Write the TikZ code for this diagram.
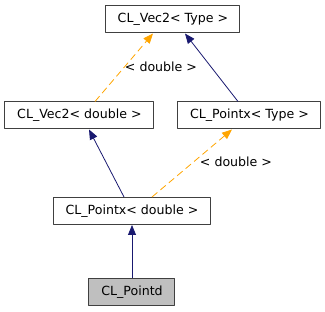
\documentclass[tikz,border=0pt]{standalone}
\usepackage{fontspec}
\setmainfont{DejaVu Sans}
\usetikzlibrary{arrows.meta}
\definecolor{inheritblue}{HTML}{191970}
\definecolor{templorange}{HTML}{FFA500}
\definecolor{boxgray}{HTML}{404040}

\tikzset{
  classbox/.style={draw=boxgray, line width=1pt, fill=white, minimum height=27pt,
    inner sep=0pt, font=\fontsize{12.6}{15}\selectfont},
  inherits/.style={draw=inheritblue, line width=0.8pt,
    -{Triangle[length=10pt,width=8pt]}},
  instance/.style={draw=templorange, line width=0.8pt, dash pattern=on 7pt off 4pt,
    -{Triangle[length=10pt,width=8pt]}},
  edgelabel/.style={font=\fontsize{12.6}{15}\selectfont, inner sep=1pt}
}

\begin{document}
\begin{tikzpicture}[x=1pt, y=-1pt, line join=round]
  \useasboundingbox (0,0) rectangle (325,312);

  % class boxes
  \node[classbox, minimum width=134pt] (vect) at (173,19.5) {CL\_Vec2< Type >};
  \node[classbox, minimum width=149pt] (vecd) at (79.5,115.5) {CL\_Vec2< double >};
  \node[classbox, minimum width=143pt] (pxt) at (249.5,115.5) {CL\_Pointx< Type >};
  \node[classbox, minimum width=157pt] (pxd) at (132,211) {CL\_Pointx< double >};
  \node[classbox, minimum width=86pt, fill=black!25] (ptd) at (132,292) {CL\_Pointd};

  % template instances
  \draw[instance] ([xshift=15.5pt]vecd.north) -- ([xshift=-20pt]vect.south);
  \node[edgelabel] (lbla) at (161,67) {< double >};
  \draw[instance] ([xshift=20pt]pxd.north) -- ([xshift=-17.5pt]pxt.south);
  \node[edgelabel] (lblb) at (236,162) {< double >};

  % inheritance
  \draw[inherits] ([xshift=-11.5pt]pxt.north) -- ([xshift=12pt]vect.south);
  \draw[inherits] ([xshift=-8pt]pxd.north) -- ([xshift=9.5pt]vecd.south);
  \draw[inherits] (ptd.north) -- (pxd.south);
\end{tikzpicture}
\end{document}
